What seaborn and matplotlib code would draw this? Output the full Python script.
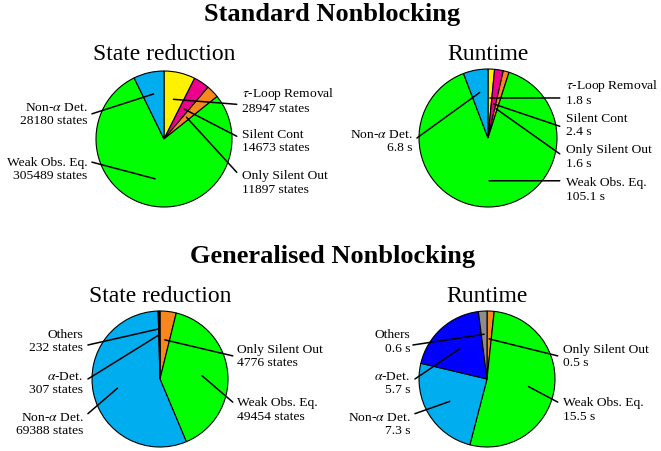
import numpy as np
import matplotlib
matplotlib.use("Agg")
import matplotlib.pyplot as plt
import seaborn as sns

sns.set_style("white")
plt.rcParams["font.family"] = ["Liberation Serif", "DejaVu Serif"]
plt.rcParams["mathtext.fontset"] = "stix"
plt.rcParams["text.color"] = "black"

# ---------------- data ----------------
std_labels = [r"$\tau$-Loop Removal", "Silent Cont", "Only Silent Out",
              "Weak Obs. Eq.", r"Non-$\alpha$ Det."]
std_states = [28947, 14673, 11897, 305489, 28180]
std_runtime = [1.8, 2.4, 1.6, 105.1, 6.8]

gen_labels = ["Only Silent Out", "Weak Obs. Eq.", r"Non-$\alpha$ Det.",
              r"$\alpha$-Det.", "Others"]
gen_states = [4776, 49454, 69388, 307, 232]
gen_runtime = [0.5, 15.5, 7.3, 5.7, 0.6]

YELLOW, MAGENTA, ORANGE = "#FFF200", "#EC008C", "#F7871E"
GREEN, CYAN, BLUE, GRAY = "#00FF00", "#00AEEF", "#0000FF", "#8C8C8C"
std_colors = sns.color_palette([YELLOW, MAGENTA, ORANGE, GREEN, CYAN])
gen_colors = sns.color_palette([ORANGE, GREEN, CYAN, BLUE, GRAY])

# ---------------- layout ----------------
W, H = 661, 452
fig = plt.figure(figsize=(W / 100, H / 100), dpi=100)

LABEL_SIZE = 9.7


def draw_pie(cx, cy, r, values, labels, colors, fmt, specs, text_x):
    ax = fig.add_axes([(cx - r) / W, 1 - (cy + r) / H, 2 * r / W, 2 * r / H])
    wedges, _ = ax.pie(values, colors=colors, startangle=90, counterclock=False,
                       radius=1,
                       wedgeprops=dict(edgecolor="black", linewidth=0.8))
    for w in wedges:
        w.set_clip_on(False)
    ax.set_xlim(-1, 1)
    ax.set_ylim(-1, 1)
    ax.axis("off")
    for w, lab, v, (ar, lx, ly, ty) in zip(wedges, labels, values, specs):
        mid = np.deg2rad((w.theta1 + w.theta2) / 2)
        anchor = (ar * np.cos(mid), ar * np.sin(mid))
        ax.annotate("", xy=anchor, xytext=(lx, ly),
                    arrowprops=dict(arrowstyle="-", color="black", lw=1.1,
                                    shrinkA=0, shrinkB=0),
                    annotation_clip=False)
        right = lx > 0
        tx = text_x[1] if right else text_x[0]
        ax.text(tx, ty, lab + "\n" + fmt(v), ha="left" if right else "right",
                va="center", multialignment="left" if right else "right",
                fontsize=LABEL_SIZE, linespacing=1.15, color="black")
    return ax


states_fmt = lambda v: f"{v} states"
time_fmt = lambda v: f"{v} s"

# Standard Nonblocking
draw_pie(164, 140, 68, std_states, std_labels, std_colors, states_fmt,
         [(0.6, 1.07, 0.51, 0.58), (0.53, 1.07, 0.04, -0.02),
          (0.46, 1.07, -0.49, -0.63), (0.6, -1.06, -0.34, -0.43),
          (0.68, -1.06, 0.37, 0.375)], (-1.13, 1.15))
draw_pie(488, 139, 69, std_runtime, std_labels, std_colors, time_fmt,
         [(0.58, 1.04, 0.58, 0.67), (0.5, 1.04, 0.17, 0.2),
          (0.44, 1.04, -0.23, -0.26), (0.62, 1.04, -0.62, -0.74),
          (0.67, -1.03, 0.0, -0.04)], (-1.10, 1.13))

# Generalised Nonblocking
draw_pie(160, 380, 68, gen_states, gen_labels, gen_colors, states_fmt,
         [(0.58, 1.07, 0.34, 0.35), (0.62, 1.07, -0.34, -0.44),
          (0.64, -1.06, -0.51, -0.65), (0.65, -1.06, 0.0, -0.05),
          (0.74, -1.06, 0.5, 0.57)], (-1.13, 1.13))
draw_pie(487, 380, 68, gen_runtime, gen_labels, gen_colors, time_fmt,
         [(0.59, 1.04, 0.34, 0.35), (0.62, 1.04, -0.34, -0.44),
          (0.64, -1.06, -0.51, -0.65), (0.6, -1.06, 0.0, -0.05),
          (0.66, -1.09, 0.5, 0.56)], (-1.13, 1.12))

# Titles
fig.text(332 / W, 1 - 15 / H, "Standard Nonblocking", ha="center", va="center",
         fontsize=19, fontweight="bold", color="black")
fig.text(333 / W, 1 - 256 / H, "Generalised Nonblocking", ha="center", va="center",
         fontsize=19, fontweight="bold", color="black")
for x, y, t in [(164, 55, "State reduction"), (488, 55, "Runtime"),
                (160, 296, "State reduction"), (487, 296, "Runtime")]:
    fig.text(x / W, 1 - y / H, t, ha="center", va="center", fontsize=17,
             color="black")

fig.savefig("out.png", dpi=100)
